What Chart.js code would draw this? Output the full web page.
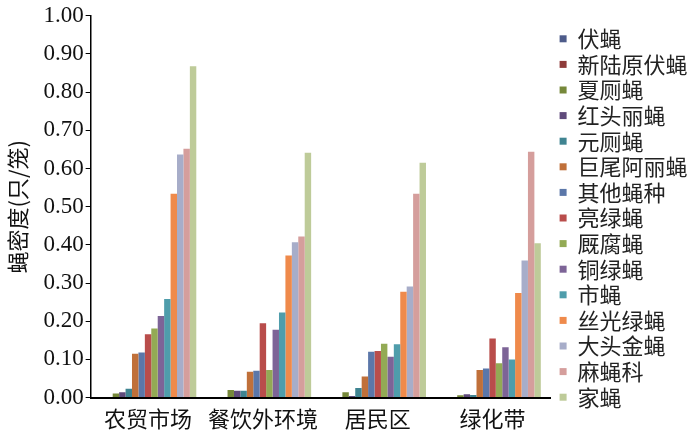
<!DOCTYPE html>
<html lang="zh">
<head>
    <meta charset="UTF-8">
    <title>蝇密度</title>
    <script src="https://cdn.jsdelivr.net/npm/chart.js"></script>
    <style>
        html, body {
            margin: 0;
            padding: 0;
            background: #fff;
        }
        .wrap {
            width: 700px;
            height: 432px;
        }
    </style>
</head>
<body>
    <div class="wrap"><canvas id="chart"></canvas></div>

    <script>
        // categories and series
        const categories = ['农贸市场', '餐饮外环境', '居民区', '绿化带'];
        const species = ['伏蝇', '新陆原伏蝇', '夏厕蝇', '红头丽蝇', '元厕蝇', '巨尾阿丽蝇', '其他蝇种',
            '亮绿蝇', '厩腐蝇', '铜绿蝇', '市蝇', '丝光绿蝇', '大头金蝇', '麻蝇科', '家蝇'];
        const colors = ['#4d5b8a', '#8e3b3a', '#76883a', '#5f4a7b', '#3f8491', '#c0703a', '#5b77a9',
            '#b94d4b', '#93aa55', '#7d6497', '#4f9dab', '#ef8a4b', '#a7adc9', '#d59e9c', '#becb99'];

        // values per species, in category order
        const fuYing = [0, 0, 0, 0];
        const xinLuYuanFuYing = [0, 0, 0, 0];
        const xiaCeYing = [0.011, 0.020, 0.014, 0.006];
        const hongTouLiYing = [0.014, 0.018, 0.004, 0.009];
        const yuanCeYing = [0.023, 0.018, 0.025, 0.007];
        const juWeiALiYing = [0.115, 0.068, 0.055, 0.072];
        const qiTaYingZhong = [0.118, 0.070, 0.120, 0.076];
        const liangLvYing = [0.166, 0.195, 0.122, 0.155];
        const jiuFuYing = [0.181, 0.072, 0.141, 0.090];
        const tongLvYing = [0.214, 0.178, 0.107, 0.132];
        const shiYing = [0.258, 0.223, 0.140, 0.100];
        const siGuangLvYing = [0.534, 0.372, 0.277, 0.274];
        const daTouJinYing = [0.637, 0.407, 0.291, 0.359];
        const maYingKe = [0.652, 0.422, 0.534, 0.644];
        const jiaYing = [0.868, 0.641, 0.615, 0.404];

        const seriesValues = [fuYing, xinLuYuanFuYing, xiaCeYing, hongTouLiYing, yuanCeYing, juWeiALiYing,
            qiTaYingZhong, liangLvYing, jiuFuYing, tongLvYing, shiYing, siGuangLvYing, daTouJinYing, maYingKe, jiaYing];

        const yTicks = [0, 0.1, 0.2, 0.3, 0.4, 0.5, 0.6, 0.7, 0.8, 0.9, 1.0];

        const cjk = '"Noto Sans CJK SC", "Noto Sans", sans-serif';
        const serif = '"Liberation Serif", "DejaVu Serif", serif';

        // legend sits at a fixed width on the right
        const legendWidth = {
            id: 'legendWidth',
            beforeInit(chart) {
                const orig = chart.legend.fit;
                chart.legend.fit = function () {
                    orig.call(this);
                    this.width = 144;
                };
            }
        };

        const ctx = document.getElementById('chart').getContext('2d');
        const chart = new Chart(ctx, {
            type: 'bar',
            data: {
                labels: categories,
                datasets: species.map((name, i) => ({
                    label: name,
                    data: seriesValues[i],
                    backgroundColor: colors[i],
                    borderWidth: 0,
                    barPercentage: 1,
                    categoryPercentage: 0.84
                }))
            },
            options: {
                responsive: true,
                maintainAspectRatio: false,
                animation: false,
                layout: {
                    padding: { left: 4, top: 4, bottom: 0, right: 0 }
                },
                plugins: {
                    tooltip: { enabled: false },
                    legend: {
                        position: 'right',
                        labels: {
                            boxWidth: 7,
                            boxHeight: 7,
                            padding: 3.6,
                            color: '#222',
                            font: { family: cjk, size: 22 }
                        }
                    }
                },
                scales: {
                    x: {
                        grid: { display: false },
                        border: { color: '#000', width: 2 },
                        ticks: {
                            color: '#111',
                            padding: 0,
                            autoSkip: false,
                            maxRotation: 0,
                            minRotation: 0,
                            font: { family: cjk, size: 22 }
                        }
                    },
                    y: {
                        min: 0,
                        max: 1,
                        afterBuildTicks: axis => {
                            axis.ticks = yTicks.map(v => ({ value: v }));
                        },
                        grid: {
                            drawOnChartArea: false,
                            drawTicks: true,
                            tickLength: 5,
                            color: '#000'
                        },
                        border: { color: '#000', width: 1.5 },
                        ticks: {
                            color: '#111',
                            padding: 2,
                            font: { family: serif, size: 23 },
                            callback: v => Number(v).toFixed(2)
                        },
                        title: {
                            display: true,
                            text: '蝇密度(只/笼)',
                            color: '#111',
                            padding: { top: 0, bottom: 11 },
                            font: { family: cjk, size: 22 }
                        }
                    },
                    pad: {
                        position: 'right',
                        display: true,
                        grid: { display: false },
                        border: { display: false },
                        ticks: { display: false },
                        afterFit: axis => { axis.width = 6; }
                    }
                }
            },
            plugins: [legendWidth]
        });
    </script>
</body>
</html>
